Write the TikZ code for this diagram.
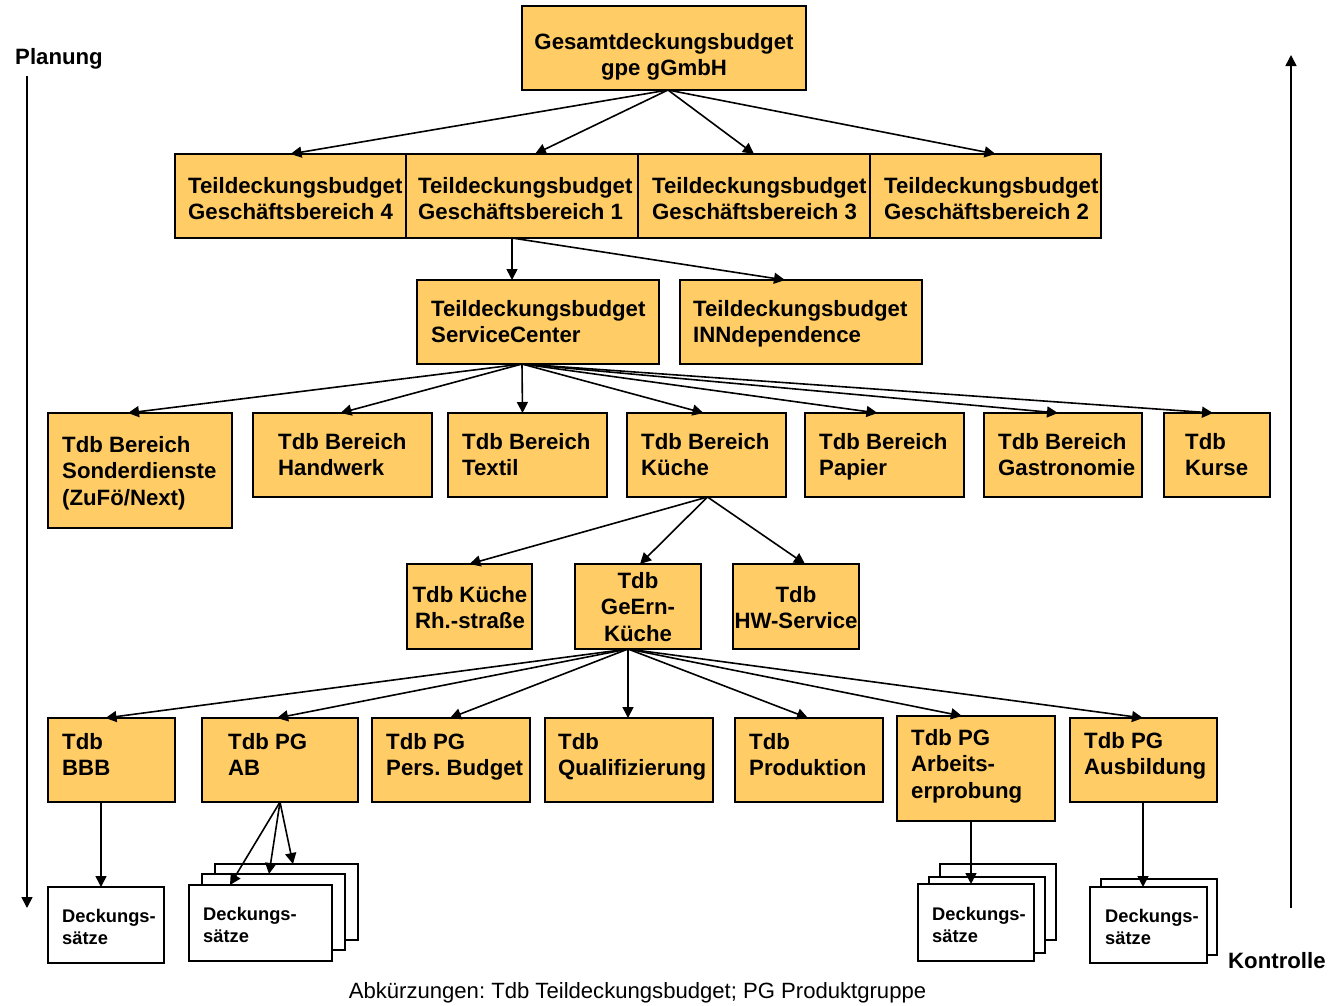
\documentclass[tikz,border=0pt]{standalone}
\usepackage{fontspec}
\setmainfont{Liberation Sans}
\usetikzlibrary{arrows.meta}
\frenchspacing
\definecolor{boxfill}{HTML}{FFCC66}
\tikzset{
 ybox/.style={draw=black, line width=1.3pt, fill=boxfill, rectangle, inner sep=0pt, outer sep=0pt},
 wbox/.style={draw=black, line width=1.3pt, fill=white, rectangle, inner sep=0pt, outer sep=0pt},
 txt/.style={inner sep=0pt, font=\fontsize{22.2}{26.6}\selectfont\bfseries, align=left, anchor=north west},
 ctxt/.style={txt, align=center, anchor=north},
 stxt/.style={inner sep=0pt, font=\fontsize{18.3}{22.4}\selectfont\bfseries, align=left, anchor=north west},
 arr/.style={line width=1.6pt, -{Triangle[length=11pt,width=11pt]}},
}
\newcommand{\bx}[6]{\node[#6, minimum width={#4-#2}, minimum height={#5-#3}] (#1) at ({(#2+#4)/2},{(#3+#5)/2}) {};}
\begin{document}
\begin{tikzpicture}[x=1pt,y=-1pt]
\useasboundingbox (0,0) rectangle (1344,1005);

% side arrows and labels
\node[txt] (plan) at (15,48) {Planung};
\coordinate (pA) at (27,76);
\coordinate (pB) at (27,908);
\draw[arr] (pA) -- (pB);
\coordinate (kA) at (1291,908);
\coordinate (kB) at (1291,55);
\draw[arr] (kA) -- (kB);
\node[txt] (kontr) at (1228,952) {Kontrolle};

% level 1
\bx{top}{522}{6}{806}{90}{ybox}
\node[ctxt] (ttop) at (664,33) {Gesamtdeckungsbudget\\gpe gGmbH};

% level 2
\bx{gb4}{175}{154}{406}{238}{ybox}
\bx{gb1}{406}{154}{638}{238}{ybox}
\bx{gb3}{638}{154}{870}{238}{ybox}
\bx{gb2}{870}{154}{1101}{238}{ybox}
\node[txt] (tgb4) at (188,177) {Teildeckungsbudget\\Geschäftsbereich 4};
\node[txt] (tgb1) at (418,177) {Teildeckungsbudget\\Geschäftsbereich 1};
\node[txt] (tgb3) at (652,177) {Teildeckungsbudget\\Geschäftsbereich 3};
\node[txt] (tgb2) at (884,177) {Teildeckungsbudget\\Geschäftsbereich 2};

% level 3
\bx{sc}{417}{280}{659}{364}{ybox}
\bx{inn}{680}{280}{922}{364}{ybox}
\node[txt] (tsc) at (431,300) {Teildeckungsbudget\\ServiceCenter};
\node[txt] (tinn) at (693,300) {Teildeckungsbudget\\INNdependence};

% level 4
\bx{son}{48}{413}{232}{528}{ybox}
\bx{hand}{253}{413}{432}{497}{ybox}
\bx{tex}{448}{413}{607}{497}{ybox}
\bx{kue}{627}{413}{786}{497}{ybox}
\bx{pap}{805}{413}{964}{497}{ybox}
\bx{gas}{984}{413}{1142}{497}{ybox}
\bx{kur}{1164}{413}{1270}{497}{ybox}
\node[txt] (tson) at (62,436) {Tdb Bereich\\Sonderdienste\\(ZuFö/Next)};
\node[txt] (thand) at (278,433) {Tdb Bereich\\Handwerk};
\node[txt] (ttex) at (462,433) {Tdb Bereich\\Textil};
\node[txt] (tkue) at (641,433) {Tdb Bereich\\Küche};
\node[txt] (tpap) at (819,433) {Tdb Bereich\\Papier};
\node[txt] (tgas) at (998,433) {Tdb Bereich\\Gastronomie};
\node[txt] (tkur) at (1185,433) {Tdb\\Kurse};

% level 5
\bx{rh}{407}{564}{532}{649}{ybox}
\bx{ge}{575}{564}{701}{649}{ybox}
\bx{hw}{733}{564}{859}{649}{ybox}
\node[ctxt] (trh) at (470,586) {Tdb Küche\\Rh.-straße};
\node[ctxt] (tge) at (638,572) {Tdb\\GeErn-\\Küche};
\node[ctxt] (thw) at (796,586) {Tdb\\HW-Service};

% level 6
\bx{bbb}{48}{718}{175}{802}{ybox}
\bx{ab}{202}{718}{358}{802}{ybox}
\bx{pers}{372}{718}{530}{802}{ybox}
\bx{qual}{545}{718}{713}{802}{ybox}
\bx{prod}{735}{718}{883}{802}{ybox}
\bx{arb}{897}{716}{1055}{821}{ybox}
\bx{aus}{1070}{718}{1217}{802}{ybox}
\node[txt] (tbbb) at (62,733) {Tdb\\BBB};
\node[txt] (tab) at (228,733) {Tdb PG\\AB};
\node[txt] (tpers) at (386,733) {Tdb PG\\Pers. Budget};
\node[txt] (tqual) at (558,733) {Tdb\\Qualifizierung};
\node[txt] (tprod) at (749,733) {Tdb\\Produktion};
\node[txt] (tarb) at (911,729) {Tdb PG\\Arbeits-\\erprobung};
\node[txt] (taus) at (1084,732) {Tdb PG\\Ausbildung};

% Deckungssaetze
\bx{d1}{48}{887}{164}{963}{wbox}
\node[stxt] (td1) at (62,909) {Deckungs-\\sätze};

\bx{d2c}{215}{864}{358}{940}{wbox}
\bx{d2b}{202}{874}{345}{950}{wbox}
\bx{d2a}{189}{885}{332}{961}{wbox}
\node[stxt] (td2) at (203,907) {Deckungs-\\sätze};

\bx{d3c}{940}{864}{1056}{940}{wbox}
\bx{d3b}{929}{877}{1045}{953}{wbox}
\bx{d3a}{918}{884}{1034}{961}{wbox}
\node[stxt] (td3) at (932,907) {Deckungs-\\sätze};

\bx{d4b}{1101}{879}{1217}{955}{wbox}
\bx{d4a}{1090}{887}{1207}{963}{wbox}
\node[stxt] (td4) at (1105,909) {Deckungs-\\sätze};

% arrows level 1 -> 2
\draw[arr] ([xshift=4pt]top.south) -- (gb4.north);
\draw[arr] ([xshift=4pt]top.south) -- ([xshift=13pt]gb1.north);
\draw[arr] ([xshift=4pt]top.south) -- (gb3.north);
\draw[arr] ([xshift=4pt]top.south) -- ([xshift=10pt]gb2.north);

% 2 -> 3
\draw[arr] ([xshift=-10pt]gb1.south) -- ([xshift=-26pt]sc.north);
\draw[arr] ([xshift=-10pt]gb1.south) -- ([xshift=-16pt]inn.north);

% 3 -> 4
\draw[arr] ([xshift=-16pt]sc.south) -- ([xshift=-12pt]son.north);
\draw[arr] ([xshift=-16pt]sc.south) -- ([xshift=-2pt]hand.north);
\draw[arr] ([xshift=-16pt]sc.south) -- ([xshift=-5pt]tex.north);
\draw[arr] ([xshift=-16pt]sc.south) -- ([xshift=-3pt]kue.north);
\draw[arr] ([xshift=-16pt]sc.south) -- ([xshift=-7pt]pap.north);
\draw[arr] ([xshift=-16pt]sc.south) -- ([xshift=-5pt]gas.north);
\draw[arr] ([xshift=-16pt]sc.south) -- ([xshift=-4pt]kur.north);

% 4 -> 5
\draw[arr] ([xshift=1pt]kue.south) -- (rh.north);
\draw[arr] ([xshift=1pt]kue.south) -- ([xshift=2pt]ge.north);
\draw[arr] ([xshift=1pt]kue.south) -- ([xshift=9pt]hw.north);

% 5 -> 6
\draw[arr] ([xshift=-10pt]ge.south) -- ([xshift=-6pt]bbb.north);
\draw[arr] ([xshift=-10pt]ge.south) -- ([xshift=-3pt]ab.north);
\draw[arr] ([xshift=-10pt]ge.south) -- ([xshift=-1pt]pers.north);
\draw[arr] ([xshift=-10pt]ge.south) -- ([xshift=-1pt]qual.north);
\draw[arr] ([xshift=-10pt]ge.south) -- ([xshift=-1pt]prod.north);
\draw[arr] ([xshift=-10pt]ge.south) -- ([xshift=-14pt]arb.north);
\draw[arr] ([xshift=-10pt]ge.south) -- ([xshift=-0.5pt]aus.north);

% 6 -> Deckungssaetze
\draw[arr] ([xshift=-10.5pt]bbb.south) -- ([xshift=-5pt]d1.north);
\draw[arr] (ab.south) -- ([xshift=-30.5pt]d2a.north);
\draw[arr] (ab.south) -- ([xshift=-4.5pt]d2b.north);
\draw[arr] (ab.south) -- ([xshift=6.5pt]d2c.north);
\draw[arr] ([xshift=-5pt]arb.south) -- ([xshift=-5pt]d3a.north);
\draw[arr] ([xshift=-0.5pt]aus.south) -- ([xshift=-5.5pt]d4a.north);

% caption
\node[inner sep=0pt, font=\fontsize{22.1}{26}\selectfont, anchor=north] (cap) at (637.5,982) {Abkürzungen: Tdb Teildeckungsbudget; PG Produktgruppe};
\end{tikzpicture}
\end{document}
